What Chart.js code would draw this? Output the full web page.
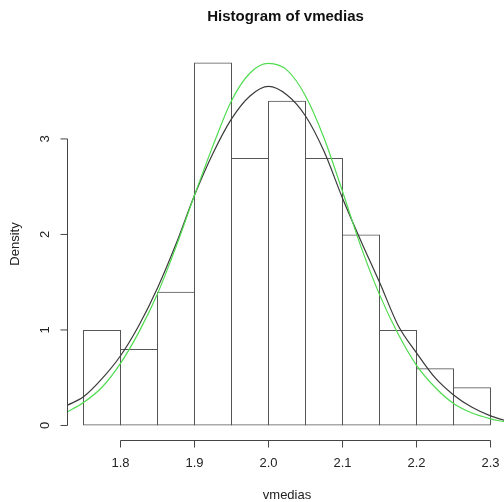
<!DOCTYPE html>
<html>
<head>
<meta charset="utf-8">
<script src="https://cdn.jsdelivr.net/npm/chart.js@4.4.0/dist/chart.umd.min.js"></script>
<style>
  html, body { margin: 0; padding: 0; background: #fff; overflow: hidden; }
</style>
</head>
<body>
<canvas id="hist" width="504" height="502"></canvas>
<script>
// Histogram data (density per 0.05 bin)
let binMids = [1.775, 1.825, 1.875, 1.925, 1.975, 2.025, 2.075, 2.125, 2.175, 2.225, 2.275];
let densities = [1.0, 0.8, 1.4, 3.8, 2.8, 3.4, 2.8, 2.0, 1.0, 0.6, 0.4];

// Curves
let curveX = [1.7277, 1.75, 1.775, 1.80, 1.825, 1.85, 1.875, 1.90, 1.925, 1.95, 1.975, 2.00,
	2.025, 2.05, 2.075, 2.10, 2.125, 2.15, 2.175, 2.20, 2.225, 2.25, 2.275, 2.30, 2.3182];
let kdeY = [0.21, 0.30, 0.49, 0.73, 1.05, 1.44, 1.90, 2.41, 2.85, 3.21, 3.45, 3.55,
	3.46, 3.24, 2.87, 2.38, 1.93, 1.50, 1.05, 0.76, 0.50, 0.32, 0.19, 0.10, 0.055];
let normY = [0.14, 0.24, 0.40, 0.65, 0.98, 1.38, 1.87, 2.41, 2.93, 3.40, 3.69, 3.79,
	3.72, 3.45, 3.01, 2.45, 1.87, 1.37, 0.96, 0.63, 0.40, 0.23, 0.13, 0.07, 0.04];

// Axis ticks
let xTicks = [1.8, 1.9, 2.0, 2.1, 2.2, 2.3];
let xTickLabels = ["1.8", "1.9", "2.0", "2.1", "2.2", "2.3"];
let yTicks = [0, 1, 2, 3];
let yTickLabels = ["0", "1", "2", "3"];

let titleText = "Histogram of vmedias";
let xTitle = "vmedias";
let yTitle = "Density";

const font = "'Liberation Sans', Arial, sans-serif";

// R style axes: line only between first and last tick
const rAxes = {
	id: "rAxes",
	afterDraw(chart) {
		const ctx = chart.ctx;
		const xs = chart.scales.x;
		const ys = chart.scales.y;
		const area = chart.chartArea;
		ctx.save();
		ctx.strokeStyle = "#444";
		ctx.lineWidth = 1;
		ctx.fillStyle = "#222";
		ctx.font = "13px " + font;

		// x axis
		let yAx = Math.round(area.bottom) + 0.5;
		ctx.beginPath();
		ctx.moveTo(xs.getPixelForValue(xTicks[0]), yAx);
		ctx.lineTo(xs.getPixelForValue(xTicks[xTicks.length - 1]), yAx);
		xTicks.forEach(v => {
			let px = xs.getPixelForValue(v);
			ctx.moveTo(px, yAx);
			ctx.lineTo(px, yAx + 7);
		});
		ctx.stroke();
		ctx.textAlign = "center";
		ctx.textBaseline = "middle";
		xTicks.forEach((v, i) => {
			ctx.fillText(xTickLabels[i], xs.getPixelForValue(v), yAx + 23);
		});
		ctx.fillText(xTitle, (area.left + 507) / 2, 495);

		// y axis
		let xAx = Math.round(area.left) + 0.5;
		ctx.beginPath();
		ctx.moveTo(xAx, ys.getPixelForValue(yTicks[0]));
		ctx.lineTo(xAx, ys.getPixelForValue(yTicks[yTicks.length - 1]));
		yTicks.forEach(v => {
			let py = ys.getPixelForValue(v);
			ctx.moveTo(xAx, py);
			ctx.lineTo(xAx - 7, py);
		});
		ctx.stroke();
		yTicks.forEach((v, i) => {
			ctx.save();
			ctx.translate(45, ys.getPixelForValue(v));
			ctx.rotate(-Math.PI / 2);
			ctx.fillText(yTickLabels[i], 0, 0);
			ctx.restore();
		});
		ctx.save();
		ctx.translate(15, (area.top + area.bottom) / 2);
		ctx.rotate(-Math.PI / 2);
		ctx.fillText(yTitle, 0, 0);
		ctx.restore();

		ctx.restore();
	}
};

let histChart = new Chart(document.getElementById("hist").getContext("2d"), {
	data: {
		datasets: [
			{
				type: "line",
				data: curveX.map((x, i) => ({ x: x, y: normY[i] })),
				borderColor: "#4fdc4f",
				borderWidth: 1.2,
				pointRadius: 0,
				cubicInterpolationMode: "monotone"
			},
			{
				type: "line",
				data: curveX.map((x, i) => ({ x: x, y: kdeY[i] })),
				borderColor: "#3a3a3a",
				borderWidth: 1.2,
				pointRadius: 0,
				cubicInterpolationMode: "monotone"
			},
			{
				type: "bar",
				data: binMids.map((x, i) => ({ x: x, y: densities[i] })),
				backgroundColor: "rgba(0,0,0,0)",
				borderColor: "#555",
				borderWidth: 1,
				borderSkipped: false,
				inflateAmount: 0,
				// bars 1px wider than a bin so neighbouring edges overlap into one line
				barPercentage: 38 / 37,
				categoryPercentage: 1
			}
		]
	},
	options: {
		responsive: false,
		animation: false,
		devicePixelRatio: 1,
		layout: {
			padding: { left: 67, right: 0, top: 0, bottom: 62 }
		},
		scales: {
			x: { type: "linear", min: 1.7277, max: 2.3182, offset: false, display: false },
			y: { type: "linear", min: -0.152, max: 3.952, display: false }
		},
		plugins: {
			legend: { display: false },
			tooltip: { enabled: false },
			title: {
				display: true,
				text: titleText,
				color: "#111",
				font: { family: font, size: 15, weight: "bold", lineHeight: 1.2 },
				padding: { top: 8, bottom: 22 }
			}
		}
	},
	plugins: [rAxes]
});
</script>
</body>
</html>
